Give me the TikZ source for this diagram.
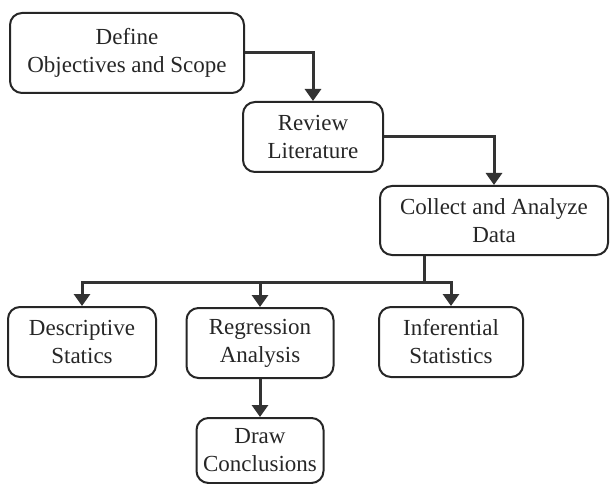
\documentclass[tikz,border=0pt]{standalone}
\usepackage{fontspec}
\setmainfont{Liberation Serif}
\usetikzlibrary{arrows.meta}
\begin{document}
\begin{tikzpicture}[x=1pt,y=-1pt,
  box/.style={draw=black!85,line width=2pt,rounded corners=12pt,align=center,inner sep=0pt,
    font=\fontsize{23}{28}\selectfont,text=black!85},
  conn/.style={draw=black!80,line width=3pt,-{Triangle[width=16pt,length=12pt]}},
  plain/.style={draw=black!80,line width=3pt}]
\useasboundingbox (0,0) rectangle (611,484);
\node[box,minimum width=234pt,minimum height=80pt] (b1) at (127,53) {Define\\Objectives and Scope};
\node[box,minimum width=140pt,minimum height=70pt] (b2) at (313,137) {Review\\Literature};
\node[box,minimum width=228pt,minimum height=69pt] (b3) at (494,220.5) {Collect and Analyze\\Data};
\node[box,minimum width=148pt,minimum height=70pt] (d) at (82,342) {Descriptive\\Statics};
\node[box,minimum width=147pt,minimum height=70pt] (r) at (260,343) {Regression\\Analysis};
\node[box,minimum width=144pt,minimum height=70pt] (i) at (451,342) {Inferential\\Statistics};
\node[box,minimum width=127pt,minimum height=65pt] (c) at (260,450.5) {Draw\\Conclusions};
\coordinate (j) at (424,282);
\draw[conn] (b1.east) -| (b2.north);
\draw[conn] (b2.east) -| (b3.north);
\draw[plain] (b3.south -| j) -- (j);
\draw[conn] (j) -| (i.north);
\draw[conn] (j) -| (d.north);
\draw[conn] (r.north |- j) -- (r.north);
\draw[conn] (r.south) -- (c.north);
\end{tikzpicture}
\end{document}
